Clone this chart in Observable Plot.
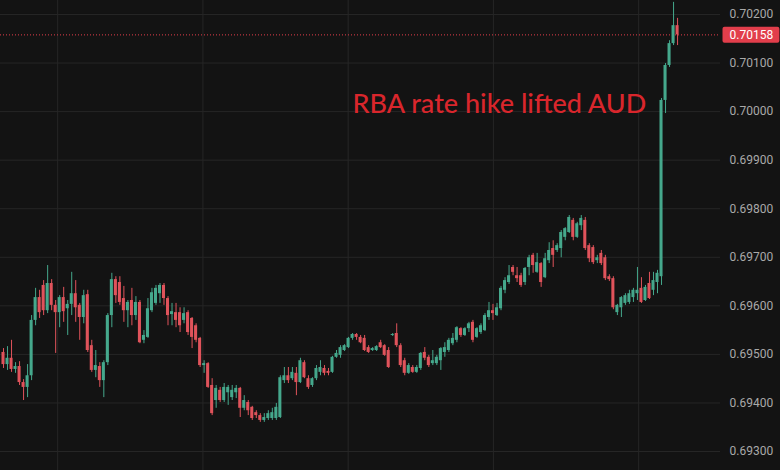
<!DOCTYPE html>
<html><head><meta charset="utf-8">
<script src="https://cdn.jsdelivr.net/npm/d3@7"></script>
<script src="https://cdn.jsdelivr.net/npm/@observablehq/plot@0.6"></script>
<style>
html,body{margin:0;padding:0;background:#131313;}
#chart{width:780px;height:470px;overflow:hidden;}
</style></head><body><div id="chart"></div>
<script>
// AUD/USD candles (one per bar, left to right)
const open = [
0.69504,0.69479,0.69492,0.69469,0.69475,0.69442,0.69432,0.69456,0.69570,0.69617,
0.69642,0.69590,0.69646,0.69601,0.69586,0.69617,0.69594,0.69603,0.69625,0.69601,
0.69576,0.69623,0.69518,0.69467,0.69475,0.69446,0.69483,0.69580,0.69654,0.69648,
0.69615,0.69590,0.69611,0.69580,0.69607,0.69529,0.69535,0.69590,0.69605,0.69625,
0.69642,0.69615,0.69582,0.69586,0.69586,0.69570,0.69586,0.69574,0.69559,0.69533,
0.69477,0.69481,0.69436,0.69405,0.69426,0.69405,0.69421,0.69411,0.69421,0.69430,
0.69389,0.69401,0.69391,0.69380,0.69374,0.69364,0.69368,0.69368,0.69368,0.69370,
0.69446,0.69456,0.69450,0.69461,0.69442,0.69483,0.69450,0.69436,0.69450,0.69463,
0.69471,0.69465,0.69463,0.69494,0.69498,0.69508,0.69514,0.69533,0.69541,0.69535,
0.69533,
0.69514,0.69508,0.69508,0.69524,0.69518,0.69508,0.69539,0.69543,0.69518,0.69487,
0.69461,0.69473,0.69463,0.69471,0.69504,0.69494,0.69481,0.69481,0.69487,0.69504,
0.69508,0.69522,0.69529,0.69553,0.69539,0.69553,0.69566,0.69535,0.69545,0.69549,
0.69576,0.69590,0.69580,0.69594,0.69632,0.69648,0.69679,0.69662,0.69662,0.69648,
0.69679,0.69704,0.69669,0.69687,0.69658,0.69693,0.69718,0.69714,0.69718,0.69741,
0.69751,0.69776,0.69741,0.69765,0.69776,0.69724,0.69720,0.69693,0.69708,0.69699,
0.69660,0.69656,0.69586,0.69596,0.69605,0.69607,0.69617,0.69625,0.69636,0.69611,
0.69646,0.69632,0.69648,0.69660,0.70023,0.70095,0.70140,0.70177];
const high = [
0.69512,0.69516,0.69529,0.69483,0.69485,0.69448,0.69479,0.69580,0.69636,0.69632,
0.69652,0.69683,0.69654,0.69611,0.69621,0.69638,0.69611,0.69669,0.69652,0.69605,
0.69632,0.69632,0.69529,0.69508,0.69483,0.69487,0.69584,0.69667,0.69660,0.69660,
0.69640,0.69611,0.69636,0.69619,0.69611,0.69549,0.69615,0.69636,0.69642,0.69646,
0.69646,0.69619,0.69605,0.69605,0.69596,0.69596,0.69590,0.69576,0.69563,0.69535,
0.69487,0.69483,0.69450,0.69436,0.69432,0.69440,0.69436,0.69436,0.69436,0.69432,
0.69415,0.69405,0.69393,0.69384,0.69378,0.69378,0.69384,0.69389,0.69399,0.69456,
0.69473,0.69473,0.69473,0.69473,0.69492,0.69487,0.69456,0.69452,0.69477,0.69487,
0.69477,0.69471,0.69496,0.69508,0.69518,0.69520,0.69535,0.69543,0.69543,0.69539,
0.69539,
0.69518,0.69514,0.69518,0.69529,0.69520,0.69514,0.69543,0.69563,0.69522,0.69492,
0.69481,0.69477,0.69477,0.69504,0.69514,0.69498,0.69508,0.69498,0.69514,0.69524,
0.69533,0.69543,0.69557,0.69555,0.69555,0.69566,0.69570,0.69555,0.69563,0.69584,
0.69607,0.69603,0.69605,0.69640,0.69658,0.69683,0.69683,0.69679,0.69667,0.69679,
0.69704,0.69708,0.69708,0.69689,0.69708,0.69730,0.69734,0.69728,0.69755,0.69761,
0.69786,0.69780,0.69772,0.69786,0.69782,0.69728,0.69724,0.69704,0.69714,0.69704,
0.69664,0.69660,0.69603,0.69619,0.69625,0.69632,0.69636,0.69679,0.69658,0.69642,
0.69669,0.69669,0.69673,0.70027,0.70099,0.70146,0.70225,0.70192];
const low = [
0.69471,0.69467,0.69463,0.69461,0.69436,0.69405,0.69411,0.69446,0.69559,0.69574,
0.69580,0.69584,0.69590,0.69502,0.69555,0.69566,0.69539,0.69580,0.69566,0.69529,
0.69563,0.69504,0.69463,0.69452,0.69432,0.69411,0.69477,0.69555,0.69605,0.69601,
0.69566,0.69555,0.69559,0.69570,0.69522,0.69522,0.69533,0.69586,0.69601,0.69605,
0.69601,0.69559,0.69559,0.69555,0.69545,0.69563,0.69539,0.69512,0.69524,0.69473,
0.69461,0.69430,0.69374,0.69389,0.69401,0.69401,0.69395,0.69405,0.69409,0.69370,
0.69384,0.69374,0.69364,0.69368,0.69360,0.69360,0.69364,0.69364,0.69364,0.69368,
0.69440,0.69440,0.69446,0.69415,0.69440,0.69450,0.69428,0.69432,0.69446,0.69456,
0.69456,0.69456,0.69461,0.69492,0.69492,0.69506,0.69512,0.69529,0.69529,0.69522,
0.69506,
0.69502,0.69506,0.69506,0.69512,0.69496,0.69471,0.69537,0.69514,0.69473,0.69456,
0.69459,0.69461,0.69461,0.69467,0.69487,0.69473,0.69477,0.69477,0.69467,0.69494,
0.69504,0.69518,0.69524,0.69535,0.69537,0.69545,0.69524,0.69533,0.69541,0.69547,
0.69570,0.69570,0.69578,0.69590,0.69625,0.69644,0.69662,0.69648,0.69638,0.69642,
0.69662,0.69667,0.69667,0.69638,0.69656,0.69687,0.69679,0.69710,0.69699,0.69734,
0.69749,0.69734,0.69739,0.69755,0.69714,0.69689,0.69685,0.69687,0.69683,0.69652,
0.69650,0.69592,0.69580,0.69576,0.69601,0.69603,0.69607,0.69611,0.69605,0.69609,
0.69613,0.69621,0.69625,0.69642,0.69996,0.70091,0.70136,0.70136];
const close = [
0.69479,0.69492,0.69469,0.69475,0.69442,0.69432,0.69456,0.69570,0.69617,0.69586,
0.69590,0.69646,0.69601,0.69586,0.69617,0.69588,0.69603,0.69625,0.69596,0.69576,
0.69621,0.69508,0.69467,0.69477,0.69446,0.69483,0.69580,0.69654,0.69621,0.69607,
0.69590,0.69607,0.69580,0.69607,0.69524,0.69539,0.69594,0.69627,0.69636,0.69642,
0.69615,0.69580,0.69588,0.69570,0.69559,0.69584,0.69545,0.69535,0.69529,0.69477,
0.69481,0.69432,0.69378,0.69430,0.69405,0.69432,0.69432,0.69426,0.69430,0.69389,
0.69405,0.69384,0.69368,0.69374,0.69364,0.69370,0.69378,0.69380,0.69391,0.69452,
0.69456,0.69446,0.69463,0.69442,0.69487,0.69452,0.69432,0.69450,0.69471,0.69473,
0.69461,0.69461,0.69494,0.69502,0.69514,0.69518,0.69533,0.69541,0.69535,0.69524,
0.69508,
0.69504,0.69512,0.69516,0.69514,0.69498,0.69473,0.69541,0.69518,0.69477,0.69461,
0.69477,0.69463,0.69473,0.69502,0.69492,0.69477,0.69487,0.69494,0.69512,0.69514,
0.69529,0.69533,0.69555,0.69539,0.69553,0.69563,0.69529,0.69553,0.69559,0.69580,
0.69590,0.69584,0.69596,0.69636,0.69652,0.69662,0.69669,0.69656,0.69642,0.69677,
0.69699,0.69683,0.69689,0.69648,0.69697,0.69714,0.69704,0.69724,0.69751,0.69759,
0.69782,0.69741,0.69769,0.69780,0.69718,0.69697,0.69689,0.69699,0.69687,0.69656,
0.69654,0.69596,0.69601,0.69617,0.69621,0.69625,0.69632,0.69632,0.69607,0.69638,
0.69615,0.69652,0.69667,0.70023,0.70095,0.70140,0.70177,0.70158];

const priceTicks = [0.693,0.694,0.695,0.696,0.697,0.698,0.699,0.700,0.701,0.702];
const sessionBreaks = [13.5, 49.7, 85.9, 122.1, 158.3]; // bar index of vertical grid lines
const lastPrice = 0.70158;
const annotation = "RBA rate hike lifted AUD";
const annotationBar = 87.0, annotationPrice = 0.70015;

const UP = "#45a88c", DOWN = "#e0535b", LABEL_RED = "#e23e4b", GRID = "#262626";
const fmt = d3.format(".5f");

const candles = open.map((o, i) => ({i, open: o, high: high[i], low: low[i], close: close[i]}));
const ups = candles.filter(d => d.close >= d.open);
const downs = candles.filter(d => d.close < d.open);

const chart = Plot.plot({
  width: 780, height: 470,
  marginLeft: 0, marginTop: 0, marginBottom: 0, marginRight: 60,
  style: {background: "#131313", color: "#a9a9a9", fontFamily: "Roboto, sans-serif", fontSize: "12px"},
  x: {domain: [-0.75, 178.7], axis: null},
  y: {domain: [0.692609, 0.702288], axis: null},
  marks: [
    Plot.gridY(priceTicks, {stroke: GRID, strokeOpacity: 1}),
    Plot.gridX(sessionBreaks, {stroke: GRID, strokeOpacity: 1}),
    Plot.axisY(priceTicks, {anchor: "right", tickSize: 0, tickPadding: 9, tickFormat: fmt, fill: "#a9a9a9", label: null}),
    Plot.ruleY([lastPrice], {stroke: LABEL_RED, strokeDasharray: "1,2", strokeWidth: 1}),
    Plot.ruleX(ups, {x: "i", y1: "low", y2: "high", stroke: UP, strokeWidth: 1}),
    Plot.ruleX(downs, {x: "i", y1: "low", y2: "high", stroke: DOWN, strokeWidth: 1}),
    Plot.rect(ups, {x1: d => d.i - 0.38, x2: d => d.i + 0.38, y1: "open", y2: "close", fill: UP}),
    Plot.rect(downs, {x1: d => d.i - 0.38, x2: d => d.i + 0.38, y1: "open", y2: "close", fill: DOWN}),
    Plot.text([annotation], {x: annotationBar, y: annotationPrice, text: d => d, textAnchor: "start",
      fill: "#d9262c", fontSize: 27, fontFamily: "Lato, sans-serif", fontWeight: 500}),
    Plot.axisY([lastPrice], {anchor: "right", tickSize: 0, tickPadding: 9, tickFormat: fmt,
      fill: "#ffffff", label: null})
  ]
});
document.getElementById("chart").appendChild(chart);

// red box behind the last-price label
const target = fmt(lastPrice);
for (const t of chart.querySelectorAll("text")) {
  if (t.textContent === target && t.getAttribute("fill") !== "#a9a9a9") {
    const bb = t.getBBox();
    const rect = document.createElementNS("http://www.w3.org/2000/svg", "rect");
    rect.setAttribute("x", bb.x - 7);
    rect.setAttribute("y", bb.y - 1);
    rect.setAttribute("width", bb.width + 13);
    rect.setAttribute("height", bb.height + 2);
    rect.setAttribute("rx", 2);
    rect.setAttribute("fill", LABEL_RED);
    if (t.getAttribute("transform")) rect.setAttribute("transform", t.getAttribute("transform"));
    t.parentNode.insertBefore(rect, t);
  }
}
</script></body></html>
